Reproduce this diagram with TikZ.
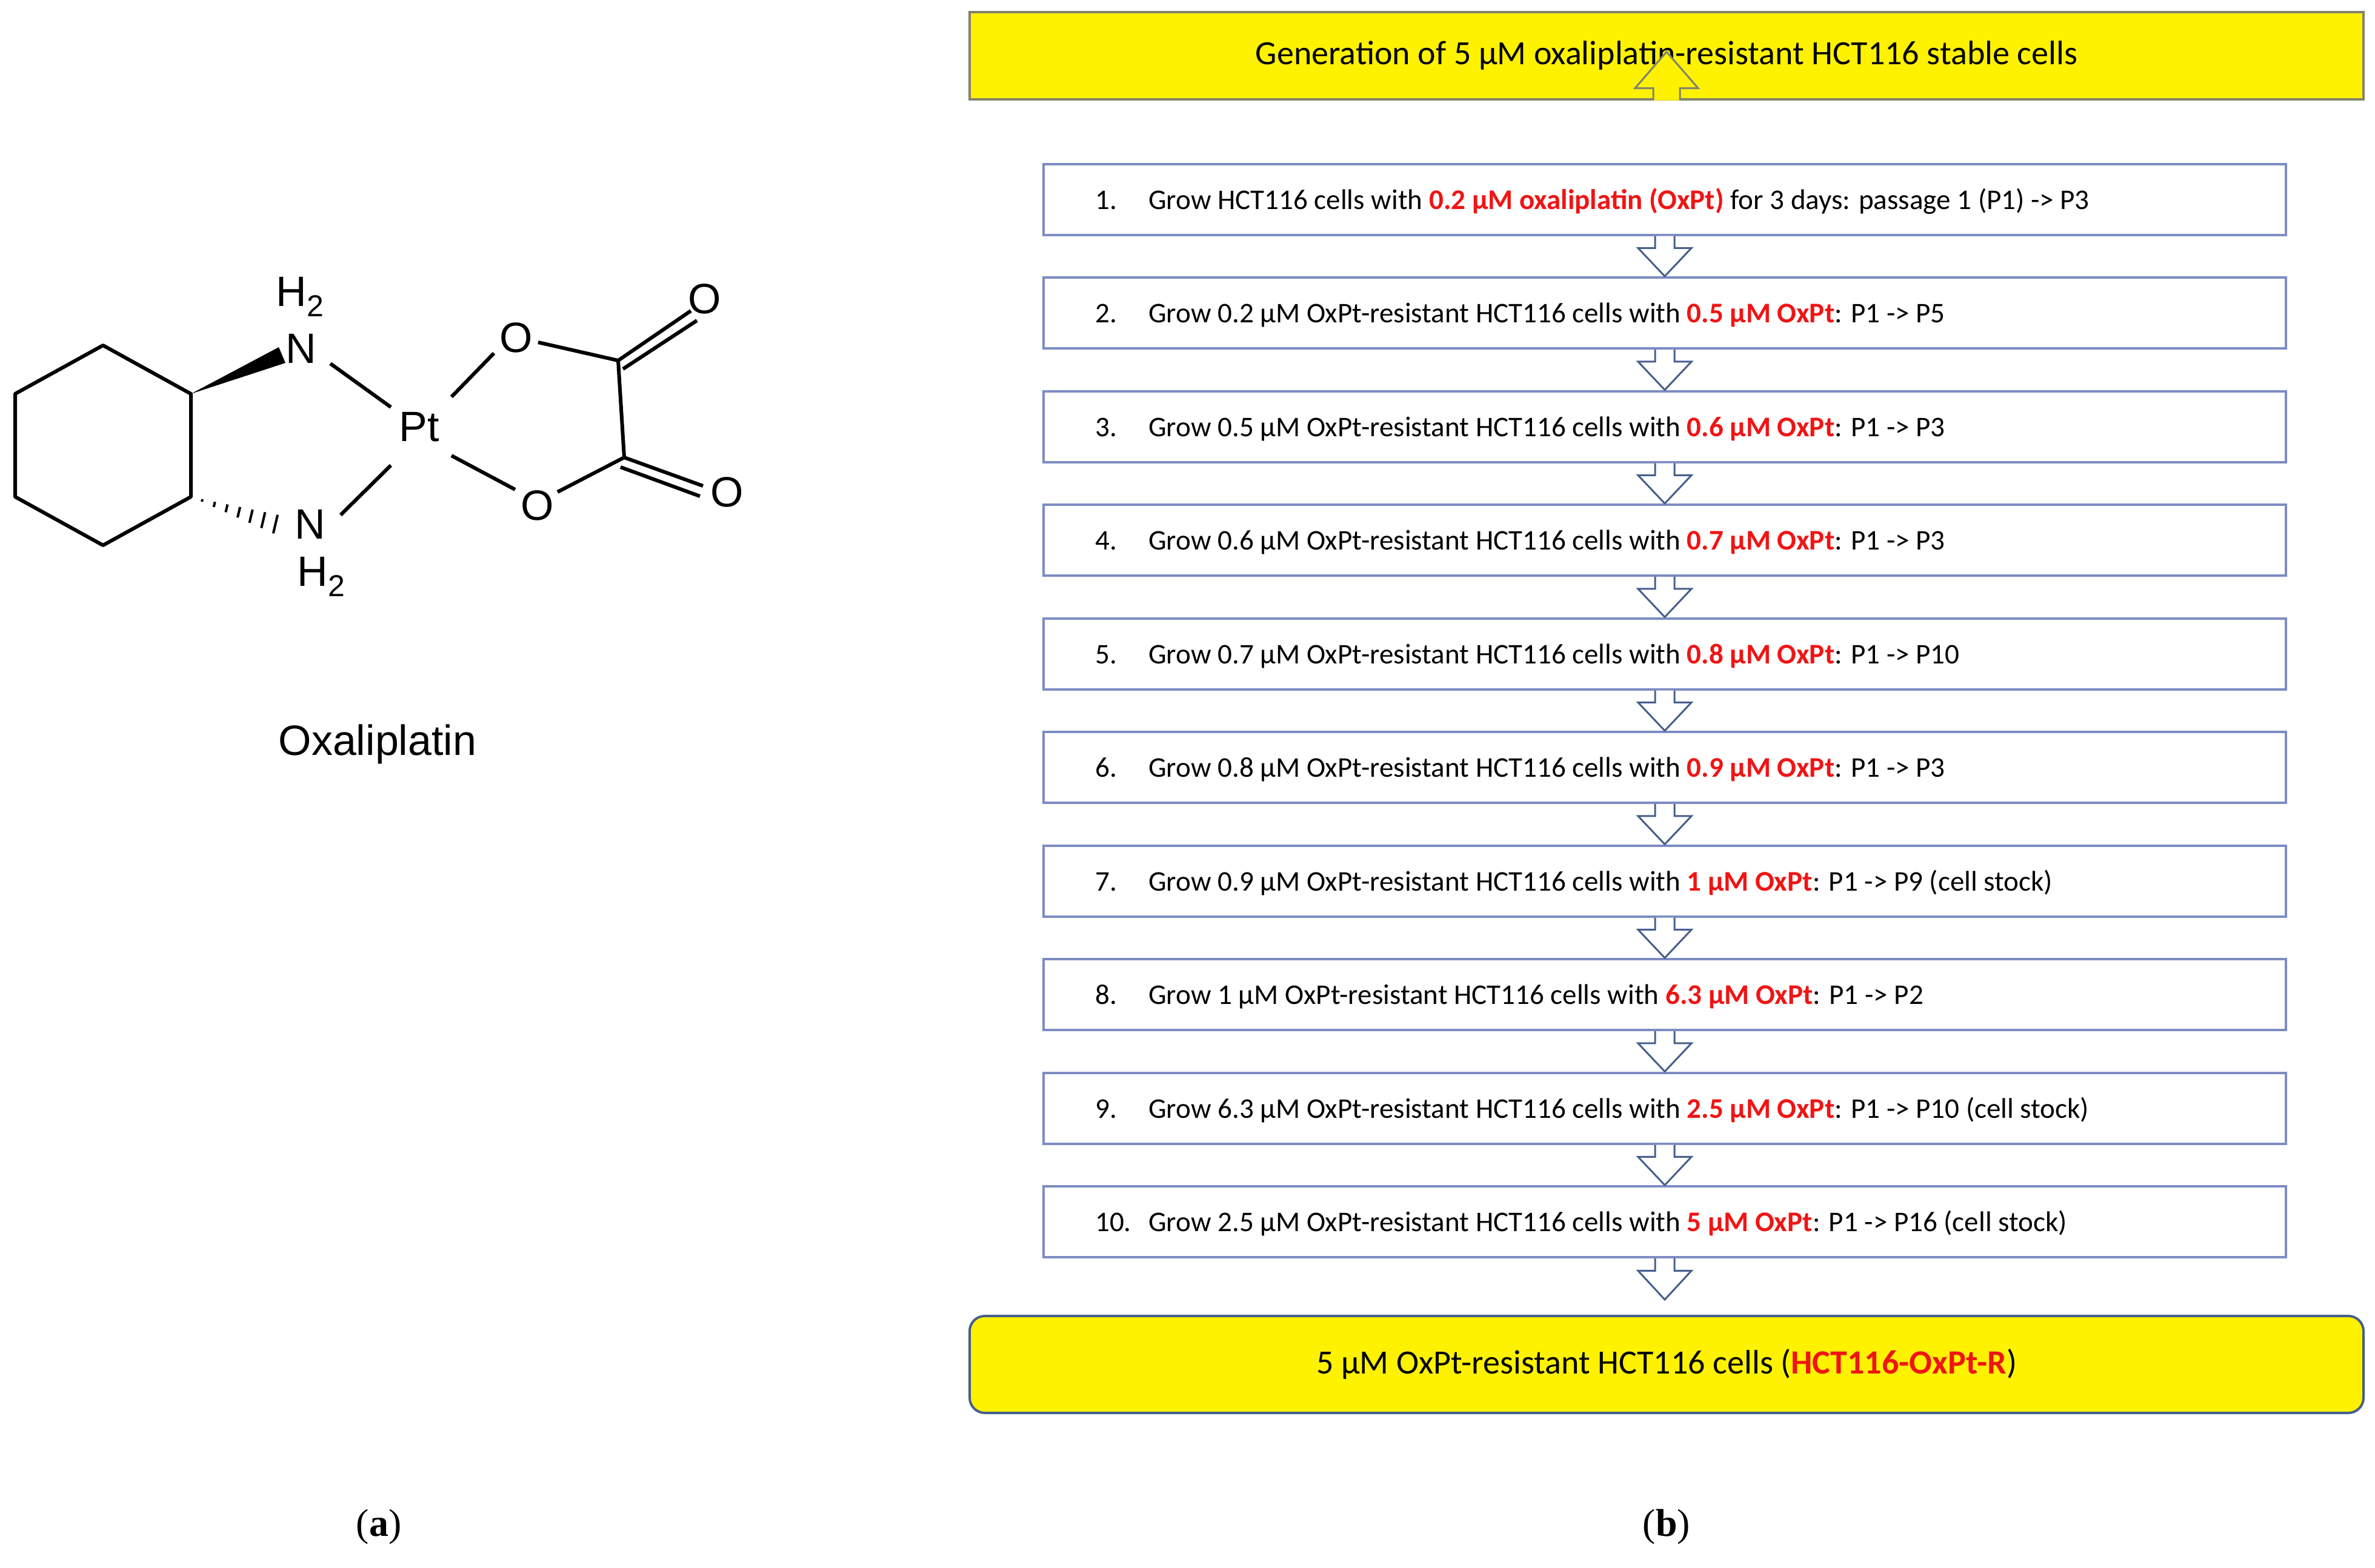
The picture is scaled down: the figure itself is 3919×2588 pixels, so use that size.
\documentclass[tikz,border=0pt]{standalone}
\usepackage{fontspec}
\setmainfont{Carlito}
\newfontfamily\molfont{Liberation Sans}
\newfontfamily\capfont{Liberation Serif}
\usetikzlibrary{calc}
\definecolor{boxline}{RGB}{125,140,195}
\definecolor{arrline}{RGB}{70,95,140}
\definecolor{topline}{RGB}{130,130,110}
\definecolor{myred}{RGB}{240,20,20}
\newcommand\hl[1]{\textcolor{myred}{\textbf{#1}}}
\begin{document}
\begin{tikzpicture}[x=1pt,y=-1pt,
  bond/.style={line width=6pt},
  atom/.style={font=\molfont\fontsize{70}{70}\selectfont,inner sep=0pt},
  stepbox/.style={draw=boxline,line width=4pt,minimum width=2050pt,minimum height=117pt,inner sep=0pt},
  steptxt/.style={font=\fontsize{47}{50}\selectfont,anchor=base west,inner sep=0pt},
  yel/.style={fill=yellow,line width=4pt,minimum width=2300pt,inner sep=0pt,font=\fontsize{56}{60}\selectfont},
  warr/.style={fill=white,draw=arrline,line width=3pt,line join=miter},
  yarr/.style={fill=yellow,draw=topline,line width=3pt}]
\useasboundingbox (0,0) rectangle (3919,2588);
% ---------- molecule ----------
\draw[bond,line join=round] (170,570)--(315,650)--(315,820)--(170,900)--(25,820)--(25,650)--cycle;
\fill (315,650)--(460,573)--(471,599)--cycle;
\foreach \t in {0.12,0.25,0.38,0.51,0.64,0.77,0.9}{
  \draw[line width=4pt] ($(315,820)!\t!(470,870)+(\t*4,-\t*17)$)--($(315,820)!\t!(470,870)-(\t*4,-\t*17)$);}
\node[atom] (n1) at (497,575) {N};
\node[atom] (h1) at (495,490) {H\raisebox{-0.45ex}{\fontsize{50}{50}\selectfont 2}};
\node[atom] (n2) at (512,865) {N};
\node[atom] (h2) at (530,952) {H\raisebox{-0.45ex}{\fontsize{50}{50}\selectfont 2}};
\node[atom] (pt) at (692,705) {Pt};
\node[atom] (o1) at (852,557) {O};
\node[atom] (o2) at (887,834) {O};
\node[atom] (o3) at (1163,493) {O};
\node[atom] (o4) at (1200,812) {O};
\coordinate (c1) at (1020,595);
\coordinate (c2) at (1030,755);
\draw[bond] (545,600)--(645,672);
\draw[bond] (645,768)--(562,850);
\draw[bond] (745,655)--(815,583);
\draw[bond] (745,752)--(850,808);
\draw[bond] (888,565)--(c1)--(c2)--(920,812);
\draw[bond] (c1)--(1140,513);
\draw[bond] ($(c1)+(8,14)$)--($(1140,513)+(10,16)$);
\draw[bond] (c2)--(1160,802);
\draw[bond] ($(c2)+(-6,16)$)--($(1160,802)+(-5,17)$);
\node[font=\molfont\fontsize{70}{70}\selectfont] (oxa) at (623,1228) {Oxaliplatin};
% ---------- flow chart ----------
\node[yel,draw=topline,minimum height=143pt] (top) at (2750,92) {Generation of 5 μM oxaliplatin-resistant HCT116 stable cells};
\node[yel,draw=arrline,rounded corners=25pt,minimum height=160pt] (fin) at (2750,2252) {5 μM OxPt-resistant HCT116 cells (\hl{HCT116-OxPt-R})};
\foreach \i/\n/\t in {
 1/1./{Grow HCT116 cells with \hl{0.2 μM oxaliplatin (OxPt)} for 3 days: passage 1 (P1) -> P3},
 2/2./{Grow 0.2 μM OxPt-resistant HCT116 cells with \hl{0.5 μM OxPt}: P1 -> P5},
 3/3./{Grow 0.5 μM OxPt-resistant HCT116 cells with \hl{0.6 μM OxPt}: P1 -> P3},
 4/4./{Grow 0.6 μM OxPt-resistant HCT116 cells with \hl{0.7 μM OxPt}: P1 -> P3},
 5/5./{Grow 0.7 μM OxPt-resistant HCT116 cells with \hl{0.8 μM OxPt}: P1 -> P10},
 6/6./{Grow 0.8 μM OxPt-resistant HCT116 cells with \hl{0.9 μM OxPt}: P1 -> P3},
 7/7./{Grow 0.9 μM OxPt-resistant HCT116 cells with \hl{1 μM OxPt}: P1 -> P9 (cell stock)},
 8/8./{Grow 1 μM OxPt-resistant HCT116 cells with \hl{6.3 μM OxPt}: P1 -> P2},
 9/9./{Grow 6.3 μM OxPt-resistant HCT116 cells with \hl{2.5 μM OxPt}: P1 -> P10 (cell stock)},
 10/10./{Grow 2.5 μM OxPt-resistant HCT116 cells with \hl{5 μM OxPt}: P1 -> P16 (cell stock)}}{
  \node[stepbox] (s\i) at (2747,{329+187.5*(\i-1)}) {};
  \node[steptxt] (num\i) at (1807,{345+187.5*(\i-1)}) {\n};
  \node[steptxt] (txt\i) at (1895,{345+187.5*(\i-1)}) {\t};
}
% top yellow arrow
\draw[yarr] let \p1=(top.south) in
  (\x1-22,\y1)--(\x1-22,\y1+20)--(\x1-52,\y1+20)--(\x1,\y1+80)--(\x1+52,\y1+20)--(\x1+22,\y1+20)--(\x1+22,\y1);
% white arrows
\foreach \a/\b in {1/2,2/3,3/4,4/5,5/6,6/7,7/8,8/9,9/10}{
  \draw[warr] let \p1=(s\a.south), \p2=(s\b.north), \n1={\y2-\y1} in
   (\x1-16,\y1)--(\x1-16,\y1+0.3*\n1)--(\x1-44,\y1+0.3*\n1)--(\x1,\y2)--(\x1+44,\y1+0.3*\n1)--(\x1+16,\y1+0.3*\n1)--(\x1+16,\y1);
}
\coordinate (tipf) at (2750,2145);
\draw[warr] let \p1=(s10.south), \p2=(tipf), \n1={\y2-\y1} in
   (\x1-16,\y1)--(\x1-16,\y1+0.3*\n1)--(\x1-44,\y1+0.3*\n1)--(\x1,\y2)--(\x1+44,\y1+0.3*\n1)--(\x1+16,\y1+0.3*\n1)--(\x1+16,\y1);
% captions
\node[font=\capfont\fontsize{64}{64}\selectfont] (capa) at (625,2520) {(\textbf{a})};
\node[font=\capfont\fontsize{64}{64}\selectfont] (capb) at (2750,2520) {(\textbf{b})};
\end{tikzpicture}
\end{document}
